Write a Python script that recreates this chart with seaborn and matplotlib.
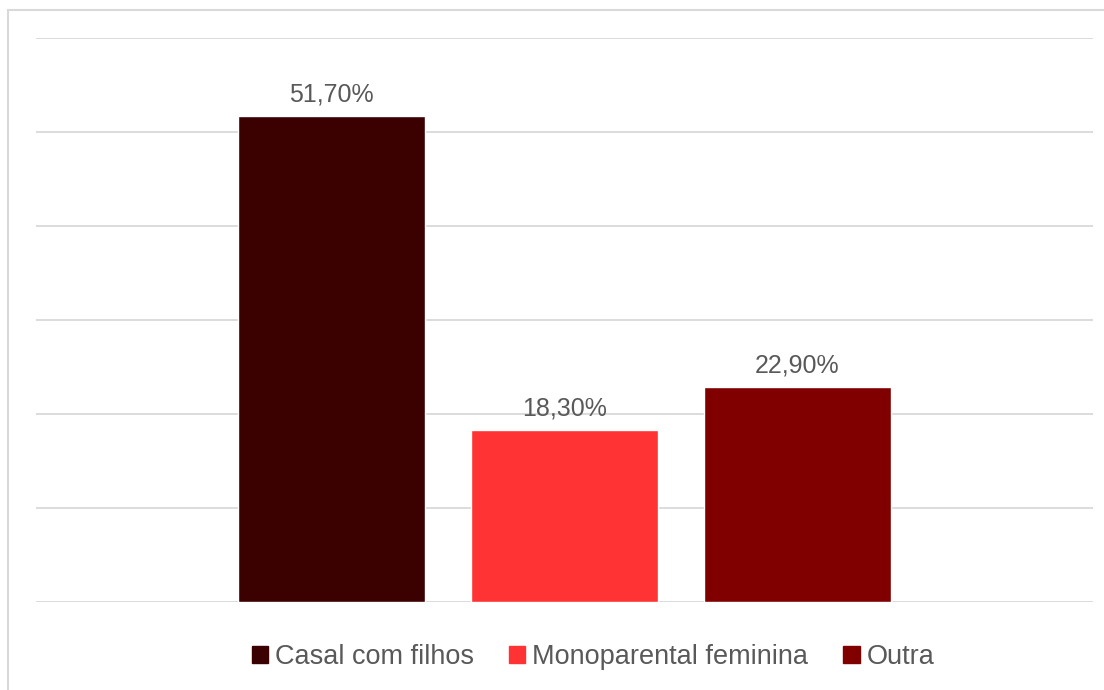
import matplotlib
matplotlib.use("Agg")
import matplotlib.pyplot as plt
import seaborn as sns
import pandas as pd
from matplotlib.patches import Rectangle

categories = ["Casal com filhos", "Monoparental feminina", "Outra"]
values = [51.7, 18.3, 22.9]
colors = ["#3B0000", "#FF3333", "#800000"]
yticks = [0, 10, 20, 30, 40, 50, 60]

sns.set_theme(style="white")
plt.rcParams['font.family'] = ['Liberation Sans', 'DejaVu Sans']

df = pd.DataFrame({"cat": categories, "val": values})

fig = plt.figure(figsize=(11.04, 6.9), dpi=100)
ax = fig.add_axes([36/1104, (690-602)/690, (1093-36)/1104, (602-38)/690])

sns.barplot(data=df, x="cat", y="val", hue="cat", palette=colors, width=0.8,
            dodge=False, legend=False, ax=ax, saturation=1)

ax.set_ylim(0, 60)
half = (1093-36)/233/2
ax.set_xlim(1-half, 1+half)
ax.set_yticks(yticks)
ax.yaxis.grid(True, color="#D9D9D9", linewidth=1.3)
ax.set_axisbelow(True)
ax.set_xticks([])
ax.set_yticklabels([])
ax.tick_params(left=False, bottom=False)
ax.set_xlabel("")
ax.set_ylabel("")
for s in ax.spines.values():
    s.set_visible(False)

for cont, v in zip(ax.containers, values):
    ax.bar_label(cont, labels=[f"{v:.2f}".replace(".", ",") + "%"],
                 padding=7, fontsize=18, color="#595959")

handles = [Rectangle((0, 0), 1, 1, color=c) for c in colors]
fig.legend(handles, categories, loc="center", bbox_to_anchor=(593/1104, 1-657/690),
           ncol=3, frameon=False, fontsize=19.5, labelcolor="#595959",
           handlelength=0.6, handleheight=0.6, handletextpad=0.25, columnspacing=1.3)

fig.patches.append(Rectangle((8/1104, -0.1), 1.2, 1-10/690+0.1, transform=fig.transFigure,
                             fill=False, edgecolor="#D9D9D9", linewidth=1.5))

fig.savefig("out.png", dpi=100, facecolor="white")
